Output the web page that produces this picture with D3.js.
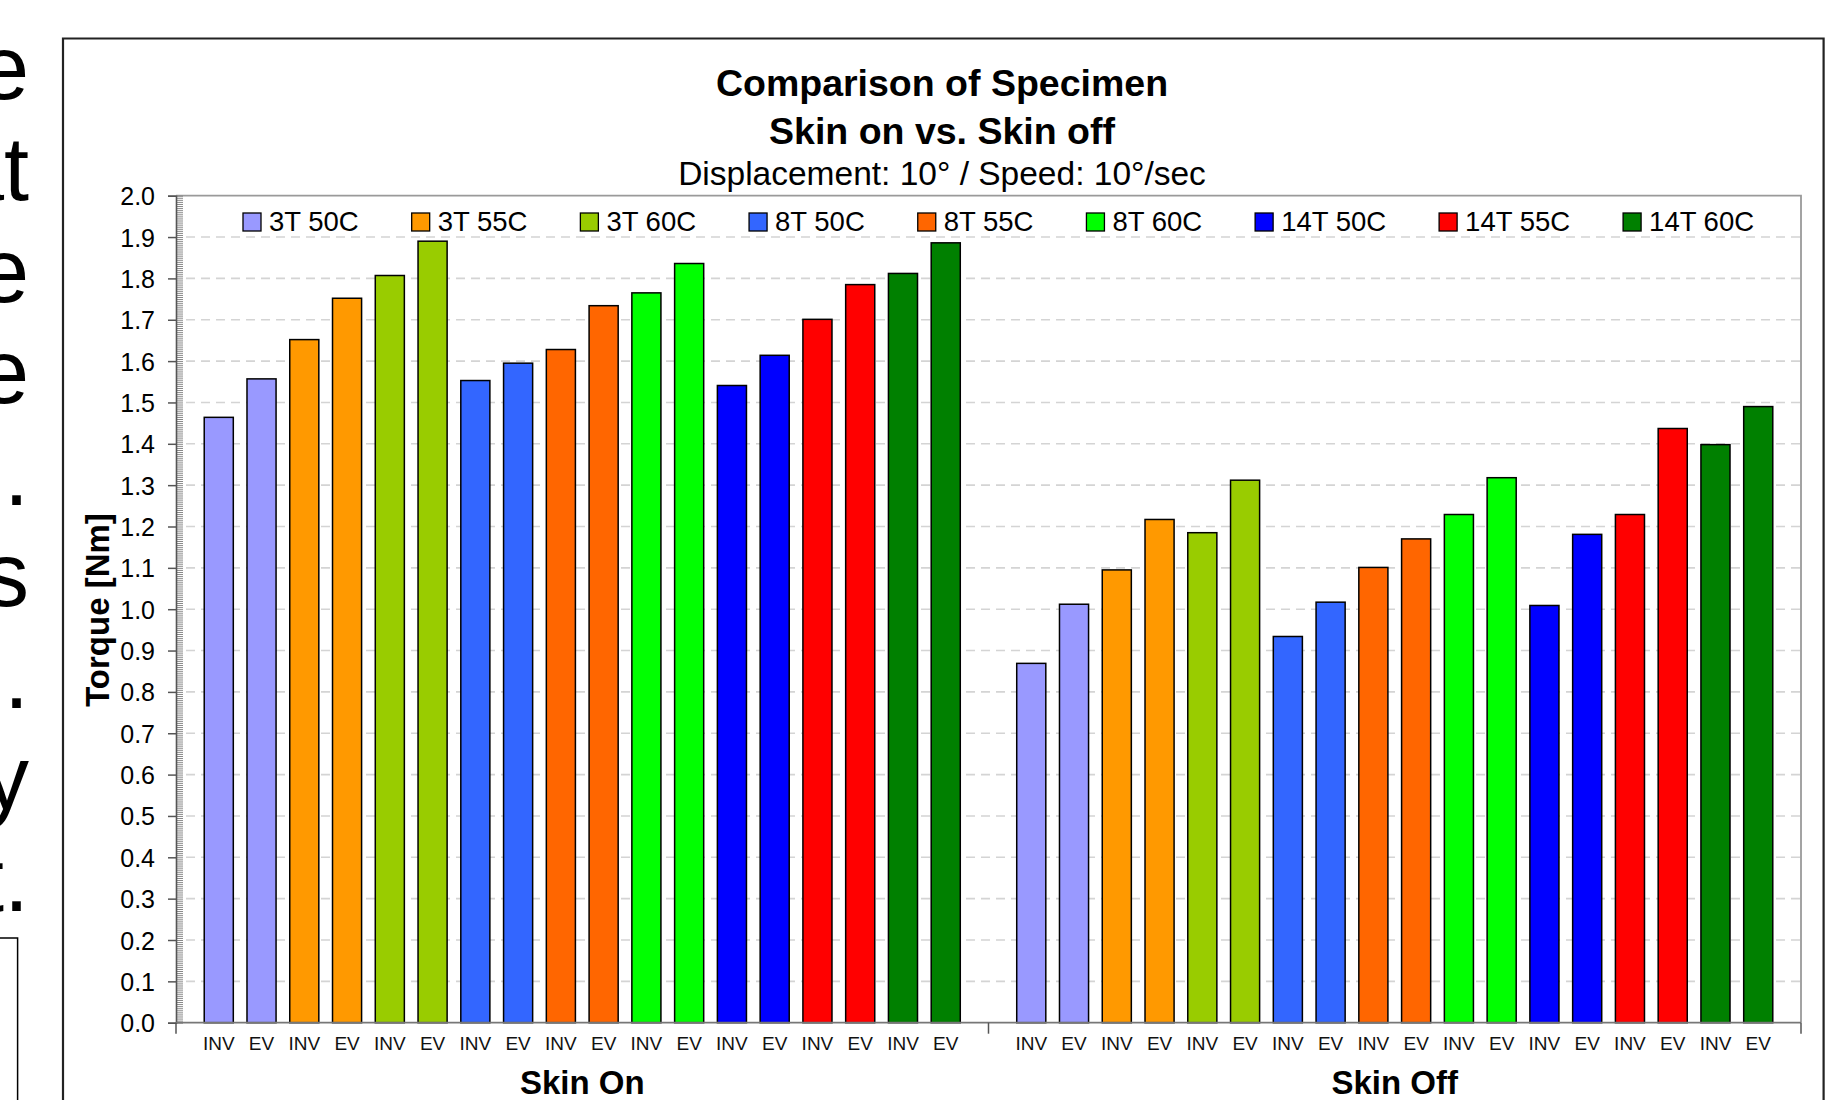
<!DOCTYPE html>
<html><head><meta charset="utf-8">
<script src="https://cdn.jsdelivr.net/npm/d3@7"></script>
<style>
body{margin:0;background:#fff;overflow:hidden;}
svg{display:block;font-family:"Liberation Sans",Arial,Helvetica,sans-serif;}
</style>
</head><body>
<svg id="chart" width="1839" height="1100"></svg>
<script>
// ---------- data ----------
const series = ["3T 50C","3T 55C","3T 60C","8T 50C","8T 55C","8T 60C","14T 50C","14T 55C","14T 60C"];
const seriesColors = ["#9999FF","#FF9900","#99CC00","#3366FF","#FF6600","#00FF00","#0000FF","#FF0000","#008000"];
const modes = ["INV","EV"];
const groups = ["Skin On","Skin Off"];
// values in order: series[0] INV, series[0] EV, series[1] INV, ...
const skinOnValues  = [1.464,1.557, 1.652,1.752, 1.807,1.890, 1.553,1.595, 1.628,1.734, 1.765,1.836, 1.541,1.614, 1.701,1.785, 1.812,1.886];
const skinOffValues = [0.869,1.012, 1.095,1.217, 1.185,1.312, 0.934,1.017, 1.101,1.170, 1.229,1.318, 1.009,1.181, 1.229,1.437, 1.398,1.490];
const yTicks = [0.0,0.1,0.2,0.3,0.4,0.5,0.6,0.7,0.8,0.9,1.0,1.1,1.2,1.3,1.4,1.5,1.6,1.7,1.8,1.9,2.0];
const titleLines = ["Comparison of Specimen","Skin on vs. Skin off"];
const subtitle = "Displacement: 10° / Speed: 10°/sec";
const yTitle = "Torque [Nm]";
const slideTextFragments = ["e","at","e","e","n.","s",".","y","t."];

// ---------- layout ----------
const svg = d3.select("#chart");
const L = 176, R = 1801, T = 195.7, B = 1022.7;
const y = d3.scaleLinear().domain([0, 2]).range([B, T]);
const gx = d3.scaleBand().domain(groups).range([L, R]).padding(0);
const cats = [];
series.forEach(s => modes.forEach(m => cats.push(s + "|" + m)));
const inner = d3.scaleBand().domain(cats).range([0, gx.bandwidth()]).paddingInner(0.32).paddingOuter(0.66);
const color = d3.scaleOrdinal().domain(series).range(seriesColors);

const groupValues = {"Skin On": skinOnValues, "Skin Off": skinOffValues};

// ---------- slide context (cropped text at left) ----------
const slide = svg.append("g");
slide.selectAll("text").data(slideTextFragments).join("text")
  .attr("x", 29).attr("y", (d, i) => 98.5 + i * 101.5)
  .attr("text-anchor", "end")
  .attr("font-size", 90).attr("fill", "#000")
  .text(d => d);
slide.append("rect").attr("x", -20).attr("y", 938).attr("width", 37.6).attr("height", 200)
  .attr("fill", "none").attr("stroke", "#000").attr("stroke-width", 1.5);

// ---------- chart frame ----------
svg.append("path")
  .attr("d", `M63,1110 L63,38.5 L1823.6,38.5 L1823.6,1110`)
  .attr("fill", "#fff").attr("stroke", "#222").attr("stroke-width", 2.2);

// titles
svg.selectAll("text.title").data(titleLines).join("text").attr("class", "title")
  .attr("x", 942).attr("y", (d, i) => 96 + i * 47.5)
  .attr("text-anchor", "middle").attr("font-size", 37.5).attr("font-weight", "bold")
  .text(d => d);
svg.append("text").attr("x", 942).attr("y", 185).attr("text-anchor", "middle")
  .attr("font-size", 33.5).text(subtitle);

// gridlines
svg.append("g").selectAll("line").data(yTicks.filter(v => v > 0 && v < 2)).join("line")
  .attr("x1", 186).attr("x2", R).attr("y1", d => y(d)).attr("y2", d => y(d))
  .attr("stroke", "#d4d4d4").attr("stroke-width", 1.6).attr("stroke-dasharray", "9,6");

// plot border top and right
svg.append("path").attr("d", `M${L},${T} L${R},${T} L${R},${B}`)
  .attr("fill", "none").attr("stroke", "#9a9a9a").attr("stroke-width", 1.8);

// minor ruler ticks
const minor = d3.range(0, 401).map(i => i * 0.005);
const minorAxis = svg.append("g").attr("transform", `translate(${L},0)`)
  .call(d3.axisRight(y).tickValues(minor).tickSize(7).tickFormat(""));
minorAxis.select(".domain").remove();
minorAxis.selectAll("line").attr("stroke", "#7a7a7a").attr("stroke-width", 0.9);

// y axis
const yAxis = svg.append("g").attr("transform", `translate(${L},0)`)
  .call(d3.axisLeft(y).tickValues(yTicks).tickFormat(d3.format(".1f")).tickSize(8).tickPadding(13));
yAxis.select(".domain").attr("stroke", "#555").attr("stroke-width", 1.6);
yAxis.selectAll(".tick line").attr("stroke", "#555").attr("stroke-width", 1.5);
yAxis.selectAll(".tick text").attr("font-size", 25).attr("fill", "#000")
  .attr("font-family", "Liberation Sans, Arial, sans-serif").attr("dy", "0.36em");

// bars
groups.forEach(g => {
  const vals = groupValues[g];
  const gG = svg.append("g").attr("transform", `translate(${gx(g)},0)`);
  gG.selectAll("rect").data(cats.map((c, i) => ({c, s: c.split("|")[0], v: vals[i]}))).join("rect")
    .attr("x", d => inner(d.c)).attr("width", inner.bandwidth())
    .attr("y", d => y(d.v)).attr("height", d => y(0) - y(d.v))
    .attr("fill", d => color(d.s)).attr("stroke", "#000").attr("stroke-width", 1.5);
  // category labels
  const xa = gG.append("g").attr("transform", `translate(0,${B})`)
    .call(d3.axisBottom(inner).tickSize(0).tickPadding(14).tickFormat(d => d.split("|")[1]));
  xa.select(".domain").remove();
  xa.selectAll("text").attr("font-size", 19).attr("fill", "#111")
    .attr("font-family", "Liberation Sans, Arial, sans-serif");
  // group label
  svg.append("text").attr("x", gx(g) + gx.bandwidth() / 2).attr("y", 1093.5)
    .attr("text-anchor", "middle").attr("font-size", 33).attr("font-weight", "bold").text(g);
});

// x axis line and group separators
svg.append("line").attr("x1", L).attr("x2", R).attr("y1", B).attr("y2", B)
  .attr("stroke", "#777").attr("stroke-width", 1.8);
svg.append("g").selectAll("line").data([L, gx("Skin Off"), R]).join("line")
  .attr("x1", d => d).attr("x2", d => d).attr("y1", B).attr("y2", B + 11)
  .attr("stroke", "#555").attr("stroke-width", 1.5);

// y title
svg.append("text").attr("transform", "translate(109,610) rotate(-90)")
  .attr("text-anchor", "middle").attr("font-size", 33).attr("font-weight", "bold").text(yTitle);

// legend
const leg = svg.append("g");
let lx = 243;
series.forEach((s, i) => {
  const it = leg.append("g").attr("transform", `translate(${lx},0)`);
  it.append("rect").attr("x", 0).attr("y", 213).attr("width", 18).attr("height", 18)
    .attr("fill", seriesColors[i]).attr("stroke", "#000").attr("stroke-width", 1.3);
  const t = it.append("text").attr("x", 26).attr("y", 231).attr("font-size", 27.5).text(s);
  lx += 26 + t.node().getComputedTextLength() + 53;
});
</script>
</body></html>
